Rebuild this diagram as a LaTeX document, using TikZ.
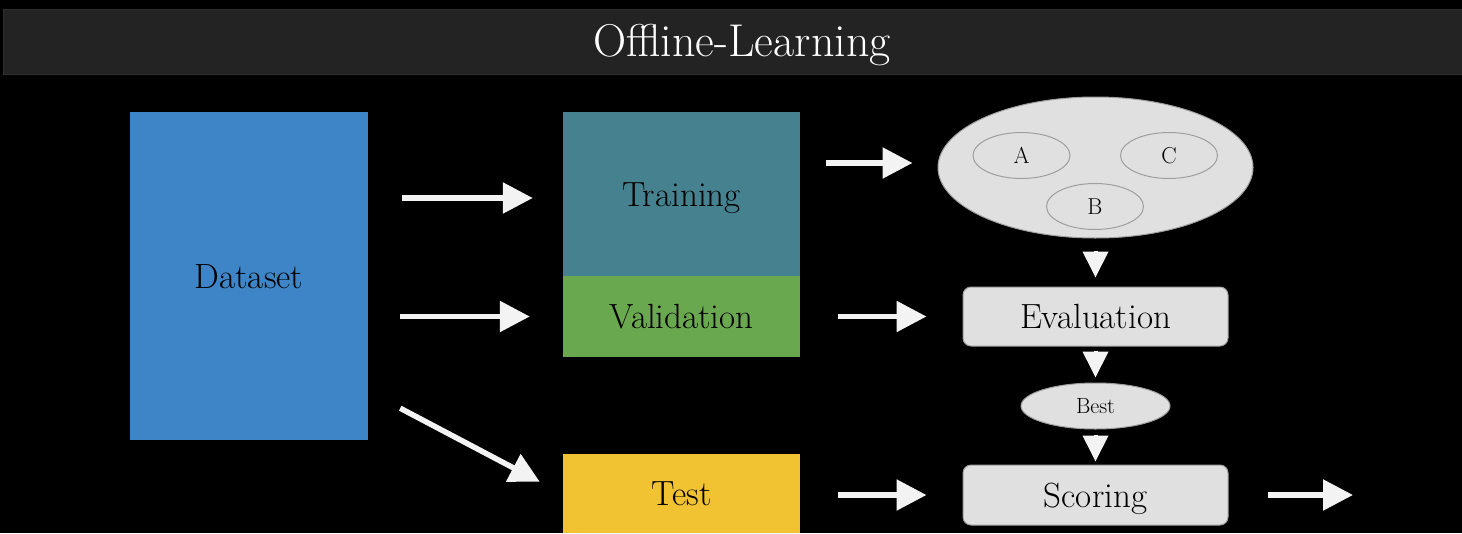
\documentclass[tikz,border=0pt]{standalone}
\usetikzlibrary{arrows.meta,shapes.geometric}
\definecolor{titlebar}{HTML}{232323}
\definecolor{titleedge}{HTML}{2E2E2E}
\definecolor{dsblue}{HTML}{3D85C6}
\definecolor{trteal}{HTML}{45818E}
\definecolor{vagreen}{HTML}{6AA84F}
\definecolor{teyellow}{HTML}{F1C232}
\definecolor{lightfill}{HTML}{E0E0E0}
\definecolor{lightedge}{HTML}{9E9E9E}
\definecolor{arrowwhite}{HTML}{F3F3F3}
\begin{document}
\begin{tikzpicture}[x=1pt,y=-1pt,
  block/.style={rectangle,inner sep=0pt,draw=none,font=\fontsize{35}{40}\selectfont,text height=24pt,text depth=0pt},
  greybox/.style={rectangle,rounded corners=8pt,fill=lightfill,draw=lightedge,line width=1pt,inner sep=0pt,font=\fontsize{35}{40}\selectfont,text height=24pt,text depth=0pt},
  greyell/.style={ellipse,fill=lightfill,draw=lightedge,line width=1pt,inner sep=0pt},
  smallell/.style={ellipse,draw=lightedge,line width=1pt,inner sep=0pt,minimum width=97pt,minimum height=46pt,font=\fontsize{23}{26}\selectfont},
  bigarrow/.style={draw=arrowwhite,line width=5.5pt,-{Triangle[length=30pt,width=30pt,fill=arrowwhite]}},
  smallarrow/.style={draw=arrowwhite,line width=4pt,-{Triangle[length=26pt,width=25pt,fill=arrowwhite]}}]
\useasboundingbox (0,0) rectangle (1462,533);
\fill[black] (0,0) rectangle (1462,533);
% title bar
\node[rectangle,fill=titlebar,draw=titleedge,line width=1pt,minimum width=1460pt,minimum height=65pt,inner sep=0pt,anchor=north west] (bar) at (3,9) {};
\node[text=white,font=\fontsize{46}{50}\selectfont,inner sep=0pt] (title) at (742,45) {Offline-Learning};
% data blocks
\node[block,fill=dsblue,minimum width=238pt,minimum height=328pt] (ds) at (249,276) {Dataset};
\node[block,fill=trteal,minimum width=237pt,minimum height=164pt] (tr) at (681.5,194) {Training};
\node[block,fill=vagreen,minimum width=237pt,minimum height=81pt] (va) at (681.5,316.5) {Validation};
\node[block,fill=teyellow,minimum width=237pt,minimum height=79pt] (te) at (681.5,493.5) {Test};
% models
\node[greyell,minimum width=315pt,minimum height=141pt] (big) at (1095.5,167.5) {};
\node[smallell] (ma) at (1021.5,155.5) {A};
\node[smallell] (mc) at (1169,155.5) {C};
\node[smallell] (mb) at (1095,206.5) {B};
% evaluation chain
\node[greybox,minimum width=265pt,minimum height=59pt] (ev) at (1095.5,316.5) {Evaluation};
\node[greyell,minimum width=149pt,minimum height=46pt,font=\fontsize{22}{26}\selectfont] (best) at (1095.5,406) {Best};
\node[greybox,minimum width=265pt,minimum height=60pt] (sc) at (1095.5,495) {Scoring};
\coordinate (out) at (1353,495);
% arrows
\draw[bigarrow,shorten <=34pt,shorten >=30pt] (ds.east |- 0,198) -- (tr.west |- 0,198);
\draw[bigarrow,shorten <=32pt,shorten >=33pt] (ds.east |- va.center) -- (va.west);
\draw[bigarrow] ([shift={(32,-32)}]ds.south east) -- ([shift={(-23,28)}]te.north west);
\draw[bigarrow,shorten <=26pt,shorten >=25pt] (tr.east |- 0,163) -- (big.west |- 0,163);
\draw[bigarrow,shorten <=38pt,shorten >=36pt] (va.east |- ev.center) -- (ev.west);
\draw[bigarrow,shorten <=38pt,shorten >=36pt] (te.east |- sc.center) -- (sc.west);
\draw[bigarrow,shorten <=39pt] (sc.east) -- (out);
\draw[smallarrow,shorten <=12pt,shorten >=9pt] (big.south) -- (ev.north);
\draw[smallarrow,shorten <=4pt,shorten >=5pt] (ev.south) -- (best.north);
\draw[smallarrow,shorten <=5pt,shorten >=3pt] (best.south) -- (sc.north);
\end{tikzpicture}
\end{document}
